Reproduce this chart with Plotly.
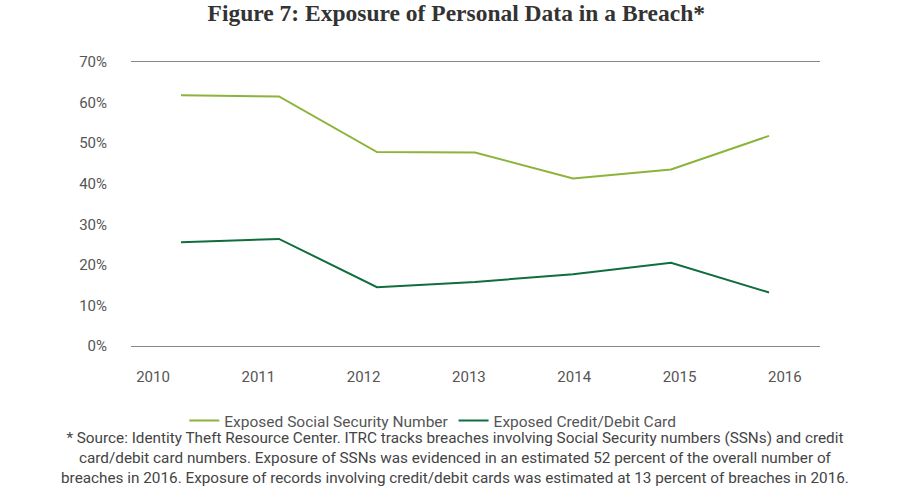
import plotly.graph_objects as go

years = ["2010", "2011", "2012", "2013", "2014", "2015", "2016"]
ssn = [61.8, 61.5, 47.8, 47.7, 41.3, 43.5, 51.8]
card = [25.6, 26.4, 14.5, 15.8, 17.7, 20.5, 13.2]
y_ticks = [0, 10, 20, 30, 40, 50, 60, 70]
y_ticktext = [f"{v}%" for v in y_ticks]
footnote_lines = [
    "* Source: Identity Theft Resource Center. ITRC tracks breaches involving Social Security numbers (SSNs) and credit",
    "card/debit card numbers. Exposure of SSNs was evidenced in an estimated 52 percent of the overall number of",
    "breaches in 2016. Exposure of records involving credit/debit cards was estimated at 13 percent of breaches in 2016.",
]

idx = list(range(len(years)))
FONT = "Roboto"
GRAY = "#555555"

fig = go.Figure()
fig.add_trace(go.Scatter(x=idx, y=ssn, mode="lines", name="Exposed Social Security Number",
                         line=dict(color="#8cb43a", width=2)))
fig.add_trace(go.Scatter(x=idx, y=card, mode="lines", name="Exposed Credit/Debit Card",
                         line=dict(color="#0f6e3c", width=2)))
# invisible trace to activate label axis
fig.add_trace(go.Scatter(x=idx, y=[None] * len(idx), xaxis="x2", showlegend=False,
                         hoverinfo="skip", mode="lines"))

fig.update_layout(
    width=900, height=500,
    paper_bgcolor="white", plot_bgcolor="white",
    margin=dict(l=131, r=80, t=62, b=154),
    title=dict(text="<b>Figure 7: Exposure of Personal Data in a Breach*</b>",
               x=0.507, xanchor="center", y=0.974, yanchor="middle",
               font=dict(family="Liberation Serif", size=23.5, color="#333333")),
    xaxis=dict(range=[-0.51, 6.52], showgrid=False, zeroline=False, showticklabels=False,
               showline=True, mirror=True, linecolor="#888888", linewidth=1.2, ticks=""),
    xaxis2=dict(overlaying="x", side="bottom", range=[-0.209, 6.334], tickvals=idx,
                ticktext=years, showgrid=False, zeroline=False, showline=False,
                ticks="outside", ticklen=17, tickcolor="rgba(0,0,0,0)",
                tickfont=dict(family=FONT, size=15, color=GRAY)),
    yaxis=dict(range=[0, 70], tickvals=y_ticks, ticktext=y_ticktext, showgrid=False,
               zeroline=False, showline=False, ticks="outside", ticklen=20,
               tickcolor="rgba(0,0,0,0)",
               tickfont=dict(family=FONT, size=15, color=GRAY)),
    legend=dict(orientation="h", x=0.438, xanchor="center", y=-0.264, yanchor="middle",
                font=dict(family=FONT, size=15.5, color=GRAY), itemwidth=30,
                bgcolor="rgba(0,0,0,0)"),
    showlegend=True,
)

fig.add_annotation(text="<br>".join(footnote_lines), xref="paper", yref="paper",
                   x=0.47, y=-0.394, xanchor="center", yanchor="middle",
                   showarrow=False, align="center",
                   font=dict(family=FONT, size=15.3, color="#444444"))

fig.write_html("out.html", config={"displayModeBar": False},
               post_script="document.body.style.margin='0';")
